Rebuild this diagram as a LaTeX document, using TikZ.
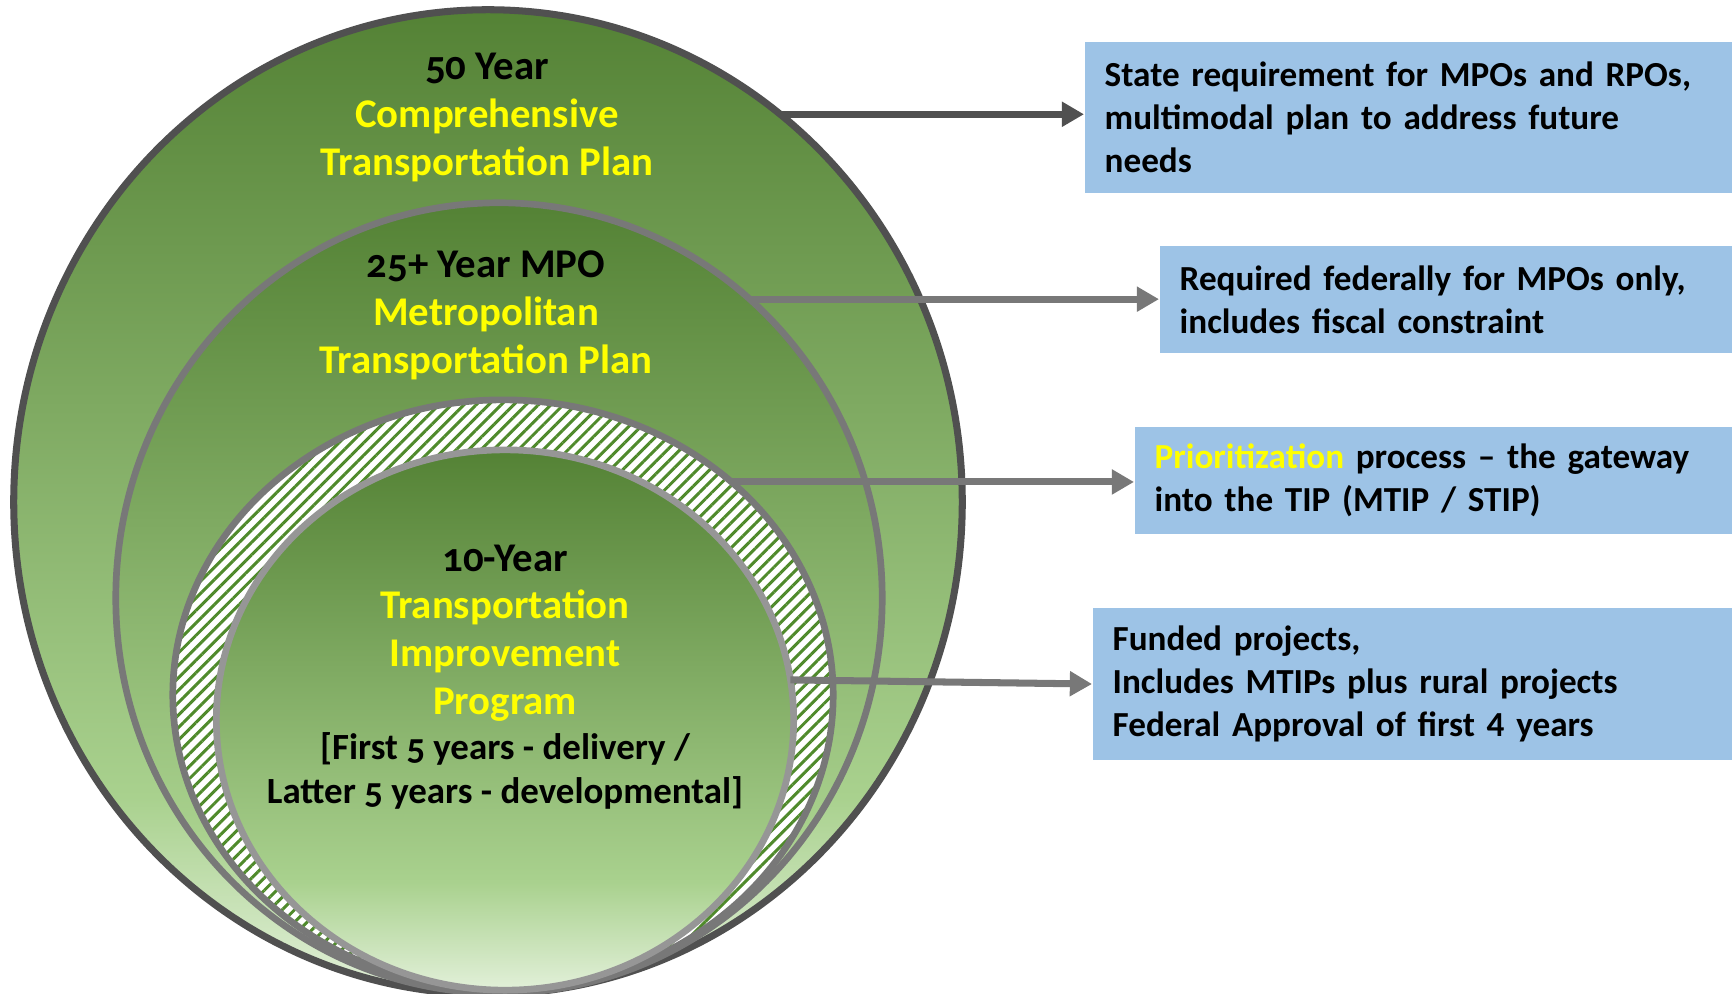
\documentclass[tikz,border=0pt]{standalone}
\usepackage{fontspec}
\setmainfont{Carlito}
\newfontfamily\circfont{Carlito}[Numbers=OldStyle]
\usetikzlibrary{shapes.geometric,arrows.meta,patterns.meta}
\definecolor{plandark}{HTML}{548235}
\definecolor{planmid}{HTML}{A9D18E}
\definecolor{planpale}{HTML}{E2F0D9}
\definecolor{boxblue}{HTML}{9DC3E6}
\definecolor{edgedark}{HTML}{505050}
\definecolor{edgemid}{HTML}{787878}
\definecolor{edgelight}{HTML}{969696}
\definecolor{hatchgreen}{HTML}{4F8A2B}
\definecolor{planyellow}{HTML}{FFFF00}
\pgfdeclareverticalshading{planfill}{100bp}{color(0bp)=(planpale); color(25bp)=(planpale); color(35bp)=(planmid); color(75bp)=(plandark); color(100bp)=(plandark)}

\begin{document}
\begin{tikzpicture}[x=0.01cm,y=-0.01cm,
  plan/.style={ellipse, line width=2pt, inner sep=0pt, outer sep=0pt, shade, shading=planfill},
  ring/.style={ellipse, draw=edgemid, line width=1.9pt, inner sep=0pt, outer sep=0pt, preaction={fill=white}, pattern={Lines[angle=45,distance=2.5pt,line width=0.85pt]}, pattern color=hatchgreen},
  title/.style={align=center, font=\circfont\bfseries\fontsize{11.6pt}{13.6pt}\selectfont},
  note/.style={anchor=west, fill=boxblue, inner xsep=0.2cm, inner ysep=0pt, align=left, font=\bfseries\fontsize{10pt}{12.3pt}\selectfont},
  link/.style={line width=2pt, draw=edgemid, -{Triangle[length=6.3pt,width=6.8pt]}}]
  \useasboundingbox (0,0) rectangle (1732,993);

  \node[plan, draw=edgedark, minimum width=9.48cm, minimum height=9.84cm] (c1) at (488,502) {};
  \node[plan, draw=edgemid, line width=1.9pt, minimum width=7.66cm, minimum height=7.90cm] (c2) at (499,598) {};
  \node[ring, minimum width=6.60cm, minimum height=5.90cm] (c3) at (503,695) {};
  \node[plan, draw=edgelight, line width=1.9pt, minimum width=5.77cm, minimum height=5.40cm] (c4) at (505,720) {};

  \node[title] (t1) at (487,117.5) {50 Year\\ \textcolor{planyellow}{Comprehensive}\\ \textcolor{planyellow}{Transportation Plan}};
  \node[title] (t2) at (486,315.5) {25+ Year MPO\\ \textcolor{planyellow}{Metropolitan}\\ \textcolor{planyellow}{Transportation Plan}};
  \node[title] (t3) at (505,633) {10-Year\\ \textcolor{planyellow}{Transportation}\\ \textcolor{planyellow}{Improvement}\\ \textcolor{planyellow}{Program}};
  \node[title, font=\circfont\bfseries\fontsize{10.5pt}{12.5pt}\selectfont] (t4) at (505,771) {[First 5 years - delivery /\\ Latter 5 years - developmental]};

  \node[note, text width=6.08cm, minimum height=1.51cm] (b1) at (1084,117.5) {State requirement for MPOs and RPOs,\\ multimodal plan to address future\\ needs};
  \node[note, text width=5.33cm, minimum height=1.07cm] (b2) at (1159,299.5) {Required federally for MPOs only,\\ includes fiscal constraint};
  \node[note, text width=5.58cm, minimum height=1.07cm] (b3) at (1134,480.5) {\textcolor{planyellow}{Prioritization} process -- the gateway\\ into the TIP (MTIP / STIP)};
  \node[note, text width=6.00cm, minimum height=1.52cm] (b4) at (1092,684) {Funded projects,\\ Includes MTIPs plus rural projects\\ Federal Approval of first 4 years};

  \draw[link, draw=edgedark] (c1.53.6) -- (c1.53.6 -| b1.west);
  \draw[link] (c2.50.1) -- (c2.50.1 -| b2.west);
  \draw[link] (c3.43.4) -- (c3.43.4 -| b3.west);
  \draw[link] (c4.8.9) -- (b4.west);
\end{tikzpicture}
\end{document}
